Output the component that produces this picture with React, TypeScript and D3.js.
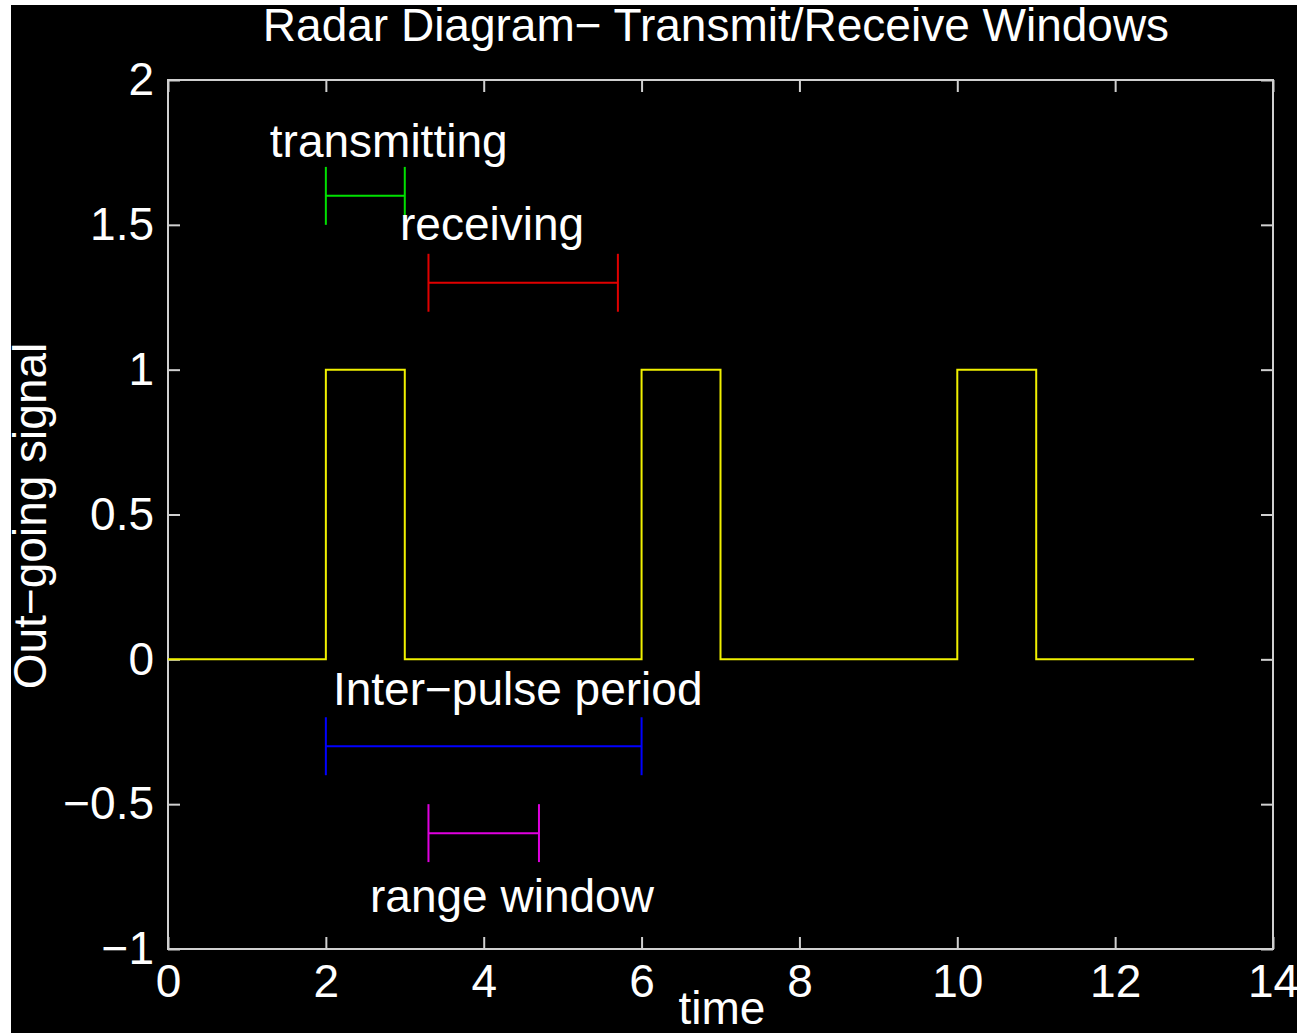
import React, { useRef, useEffect } from 'react';
import * as d3 from 'd3';

// out-going signal (square pulses)
const signalTime = [0, 2, 2, 3, 3, 6, 6, 7, 7, 10, 10, 11, 11, 13];
const signalValue = [0, 0, 1, 1, 0, 0, 1, 1, 0, 0, 1, 1, 0, 0];

// annotated windows (horizontal error-bar style)
const windowNames = ['transmitting', 'receiving', 'Inter\u2212pulse period', 'range window'];
const windowStart = [2, 3.3, 2, 3.3];
const windowEnd = [3, 5.7, 6, 4.7];
const windowLevel = [1.6, 1.3, -0.3, -0.6];
const windowColors = ['#00e000', '#e00000', '#0000ff', '#e000e0'];
const labelX = [1.29, 2.94, 2.09, 2.56];
const labelY = [1.733, 1.446, -0.159, -0.873];
const capHalf = 0.1;

const xTicks = [0, 2, 4, 6, 8, 10, 12, 14];
const yTicks = [-1, -0.5, 0, 0.5, 1, 1.5, 2];

const W = 1300;
const H = 1033;
const FONT = '"Liberation Sans", Arial, sans-serif';

const App = () => {
    const svgRef = useRef<SVGSVGElement>(null);

    useEffect(() => {
        const svg = d3.select(svgRef.current);
        svg.selectAll('*').remove();

        const left = 168, right = 1273, top = 80, bottom = 949;

        const x = d3.scaleLinear().domain([0, 14]).range([left, right]);
        const y = d3.scaleLinear().domain([-1, 2]).range([bottom, top]);

        // background
        svg.append('rect').attr('width', W).attr('height', H).attr('fill', '#fff');
        svg.append('rect')
           .attr('x', 11).attr('y', 5)
           .attr('width', 1286).attr('height', H - 5)
           .attr('fill', '#000');

        const fmt = d3.format('');

        const styleAxis = (g) => {
            g.select('.domain').remove();
            g.selectAll('line').attr('stroke', '#d0d0d0').attr('stroke-width', 2);
            g.selectAll('text')
             .attr('fill', '#fff')
             .style('font-family', FONT)
             .style('font-size', '46px');
        };

        svg.append('g')
           .attr('transform', `translate(0,${bottom})`)
           .call(d3.axisBottom(x).tickValues(xTicks).tickFormat(fmt)
                   .tickSizeInner(-12).tickSizeOuter(0).tickPadding(15))
           .call(styleAxis);

        svg.append('g')
           .attr('transform', `translate(0,${top})`)
           .call(d3.axisTop(x).tickValues(xTicks).tickFormat(() => '')
                   .tickSizeInner(-12).tickSizeOuter(0))
           .call(styleAxis);

        svg.append('g')
           .attr('transform', `translate(${left},0)`)
           .call(d3.axisLeft(y).tickValues(yTicks).tickFormat(fmt)
                   .tickSizeInner(-12).tickSizeOuter(0).tickPadding(14))
           .call(styleAxis);

        svg.append('g')
           .attr('transform', `translate(${right},0)`)
           .call(d3.axisRight(y).tickValues(yTicks).tickFormat(() => '')
                   .tickSizeInner(-12).tickSizeOuter(0))
           .call(styleAxis);

        // plot box
        svg.append('rect')
           .attr('x', left).attr('y', top)
           .attr('width', right - left).attr('height', bottom - top)
           .attr('fill', 'none')
           .attr('stroke', '#d0d0d0')
           .attr('stroke-width', 2);

        // signal
        const line = d3.line<number>()
                       .x((d, i) => x(signalTime[i]))
                       .y(d => y(d));

        svg.append('path')
           .datum(signalValue)
           .attr('d', line)
           .attr('fill', 'none')
           .attr('stroke', '#f0f000')
           .attr('stroke-width', 2);

        // windows
        windowNames.forEach((name, i) => {
            const g = svg.append('g')
                         .attr('stroke', windowColors[i])
                         .attr('stroke-width', 2);
            g.append('line')
             .attr('x1', x(windowStart[i])).attr('x2', x(windowEnd[i]))
             .attr('y1', y(windowLevel[i])).attr('y2', y(windowLevel[i]));
            [windowStart[i], windowEnd[i]].forEach(v => {
                g.append('line')
                 .attr('x1', x(v)).attr('x2', x(v))
                 .attr('y1', y(windowLevel[i] + capHalf))
                 .attr('y2', y(windowLevel[i] - capHalf));
            });

            svg.append('text')
               .attr('x', x(labelX[i]))
               .attr('y', y(labelY[i]))
               .attr('fill', '#fff')
               .style('font-family', FONT)
               .style('font-size', '46px')
               .text(name);
        });

        // title and axis labels
        svg.append('text')
           .attr('x', 716).attr('y', 41)
           .attr('text-anchor', 'middle')
           .attr('fill', '#fff')
           .style('font-family', FONT)
           .style('font-size', '46px')
           .text('Radar Diagram\u2212 Transmit/Receive Windows');

        svg.append('text')
           .attr('x', 722).attr('y', 1024)
           .attr('text-anchor', 'middle')
           .attr('fill', '#fff')
           .style('font-family', FONT)
           .style('font-size', '46px')
           .text('time');

        svg.append('text')
           .attr('transform', `translate(46,516) rotate(-90)`)
           .attr('text-anchor', 'middle')
           .attr('fill', '#fff')
           .style('font-family', FONT)
           .style('font-size', '46px')
           .text('Out\u2212going signal');
    }, []);

    return (
        <svg
            ref={svgRef}
            width={W}
            height={H}
            style={{ position: 'absolute', left: 0, top: 0, display: 'block' }}
        />
    );
};

export default App;
